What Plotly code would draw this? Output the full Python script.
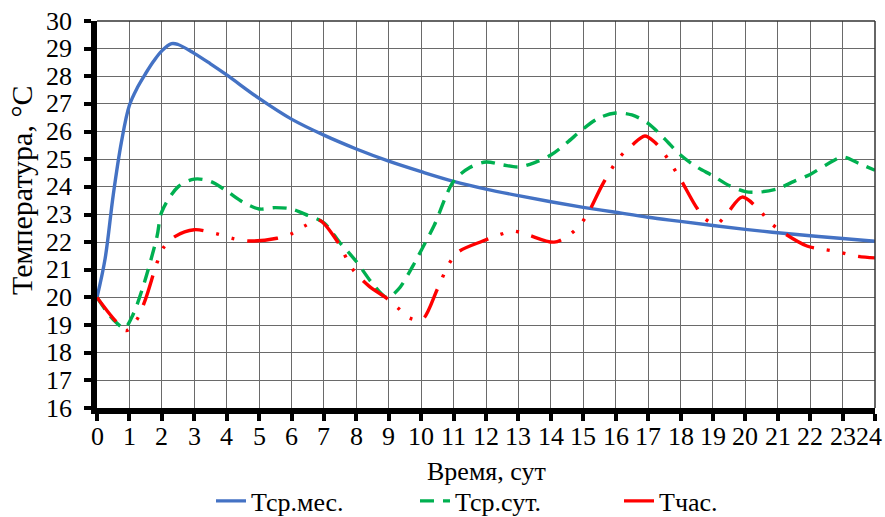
import plotly.graph_objects as go

# Tср.мес. (monthly mean)
x_mes = [0, 0.25, 0.5, 0.75, 1, 1.25, 1.5, 1.75, 2, 2.3, 2.5, 3, 3.5, 4, 5, 6, 7, 8, 9, 10,
         11, 12, 13, 14, 15, 16, 17, 18, 19, 20, 21, 22, 23, 24]
t_mes = [20, 21.4, 23.7, 25.6, 26.95, 27.6, 28.1, 28.55, 28.92, 29.18, 29.15, 28.83, 28.45,
         28.05, 27.2, 26.45, 25.87, 25.37, 24.93, 24.55, 24.2, 23.92, 23.68, 23.46, 23.26,
         23.08, 22.9, 22.75, 22.6, 22.46, 22.34, 22.23, 22.13, 22.03]

# Tср.сут. (daily mean)
x_sut = [0, 0.5, 0.85, 1.1, 1.45, 1.85, 2.0, 2.5, 3.0, 3.5, 4.0, 4.5, 5.0, 5.5, 6.0, 6.5,
         7.0, 7.5, 8.0, 8.5, 8.95, 9.3, 9.75, 10.0, 10.4, 11.0, 11.5, 12.0, 12.5, 13.0,
         13.5, 14.0, 14.5, 15.0, 15.5, 16.0, 16.5, 17.0, 17.5, 18.0, 18.5, 19.0, 19.5,
         20.0, 20.5, 21.0, 21.5, 22.0, 22.5, 23.0, 23.5, 24.0]
t_sut = [20, 19.2, 18.9, 19.35, 20.5, 22.2, 23.1, 24.0, 24.28, 24.2, 23.85, 23.45, 23.2,
         23.25, 23.2, 22.97, 22.7, 21.97, 21.3, 20.5, 20.0, 20.3, 21.15, 21.7, 22.6, 24.2,
         24.7, 24.9, 24.8, 24.72, 24.88, 25.15, 25.6, 26.1, 26.5, 26.67, 26.6, 26.3, 25.75,
         25.15, 24.72, 24.4, 24.05, 23.83, 23.82, 23.93, 24.2, 24.45, 24.8, 25.08, 24.85,
         24.6]

# Tчас. (hourly)
x_chas = [0, 0.55, 0.9, 1.23, 1.5, 1.85, 2.05, 2.4, 3.0, 3.7, 4.2, 4.7, 5.55, 6.0, 6.4,
          6.85, 7.4, 7.9, 8.4, 8.9, 9.3, 9.65, 10.03, 10.5, 10.85, 11.15, 11.9, 12.4,
          12.85, 13.3, 14.1, 14.6, 14.95, 15.2, 15.6, 16.1, 16.5, 16.9, 17.2, 17.5, 17.75,
          18.0, 18.45, 18.75, 19.1, 19.45, 19.9, 20.4, 20.75, 21.1, 21.9, 22.4, 22.9,
          23.4, 24.0]
t_chas = [20, 19.18, 18.8, 19.2, 19.95, 21.25, 21.8, 22.2, 22.45, 22.3, 22.13, 22.04, 22.14,
          22.3, 22.58, 22.8, 22.05, 21.0, 20.4, 20.0, 19.6, 19.25, 19.2, 20.3, 21.2, 21.65,
          22.04, 22.26, 22.4, 22.26, 22.0, 22.29, 22.7, 23.16, 24.1, 25.04, 25.5, 25.84,
          25.62, 25.2, 24.75, 24.28, 23.34, 22.85, 22.65, 23.05, 23.63, 23.2, 22.73, 22.4,
          21.86, 21.74, 21.64, 21.5, 21.43]

x_ticks = list(range(0, 25))
x_labels = [str(v) for v in x_ticks]
y_ticks = list(range(16, 31))
y_labels = [str(v) for v in y_ticks]

FONT = "Times New Roman"
FS = 26

fig = go.Figure()
fig.add_trace(go.Scatter(x=x_mes, y=t_mes, mode="lines", name="Тср.мес.",
                         line=dict(color="#4472C4", width=3.4, shape="spline", smoothing=1.0)))
fig.add_trace(go.Scatter(x=x_sut, y=t_sut, mode="lines", name="Тср.сут.",
                         line=dict(color="#00B050", width=3.4, shape="spline", smoothing=0.9,
                                   dash="14px,9px")))
fig.add_trace(go.Scatter(x=x_chas, y=t_chas, mode="lines", name="Тчас.",
                         line=dict(color="#FF0000", width=3.4, shape="spline", smoothing=0.9,
                                   dash="31px,13px,3px,13px,3px,13px")))

fig.update_layout(
    width=885, height=517,
    margin=dict(l=97, r=10, t=21, b=109, autoexpand=False),
    paper_bgcolor="white", plot_bgcolor="white",
    font=dict(family=FONT, size=FS, color="black"),
    showlegend=True,
    legend=dict(orientation="h", xref="container", x=211 / 885, xanchor="left",
                yref="container", y=1 - 501 / 517, yanchor="middle",
                font=dict(family=FONT, size=FS), entrywidth=159, tracegroupgap=0),
)
fig.update_xaxes(
    range=[0, 24], tickvals=x_ticks, showticklabels=False,
    showgrid=True, gridcolor="#6a6a6a", gridwidth=1,
    showline=True, linecolor="black", linewidth=6,
    ticks="outside", ticklen=7, tickwidth=4, tickcolor="black",
    zeroline=False, automargin=False,
)
fig.update_yaxes(
    range=[16, 30], tickvals=y_ticks, showticklabels=False,
    showgrid=True, gridcolor="#6a6a6a", gridwidth=1,
    showline=True, linecolor="black", linewidth=6,
    ticks="outside", ticklen=7, tickwidth=4, tickcolor="black",
    zeroline=False, automargin=False,
)

# tick labels (placed as in the original: y labels farther from the axis,
# last x label kept inside the picture)
for v, lab in zip(y_ticks, y_labels):
    fig.add_annotation(text=lab, showarrow=False, xref="paper", x=0, xanchor="right",
                       xshift=-23, yref="y", y=v, yanchor="middle",
                       font=dict(family=FONT, size=FS, color="black"))
for v, lab in zip(x_ticks, x_labels):
    last = v == x_ticks[-1]
    fig.add_annotation(text=lab, showarrow=False, xref="x", x=v,
                       xanchor="right" if last else "center", xshift=9 if last else 0,
                       yref="paper", y=0, yanchor="middle", yshift=-28,
                       font=dict(family=FONT, size=FS, color="black"))

# axis titles placed like the original
fig.add_annotation(text="Время, сут", showarrow=False,
                   xref="paper", x=(487 - 97) / 778, xanchor="center",
                   yref="paper", y=0, yanchor="middle", yshift=-(471 - 408),
                   font=dict(family=FONT, size=FS, color="black"))
fig.add_annotation(text="Температура, °С", textangle=-90, showarrow=False,
                   xref="paper", x=0, xanchor="center", xshift=-(97 - 21),
                   yref="paper", y=(408 - 191) / 387, yanchor="middle",
                   font=dict(family=FONT, size=30, color="black"))
# thin frame on top and right
fig.add_shape(type="line", xref="paper", yref="paper", x0=0, x1=1, y0=1, y1=1,
              line=dict(color="#333333", width=1.5))
fig.add_shape(type="line", xref="paper", yref="paper", x0=1, x1=1, y0=0, y1=1,
              line=dict(color="#333333", width=1.5))

fig.write_html("out.html", config={"displayModeBar": False},
               post_script="document.body.style.margin='0';")
